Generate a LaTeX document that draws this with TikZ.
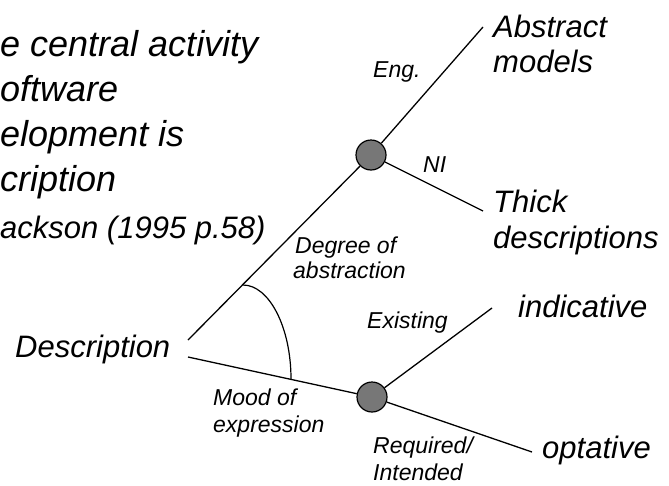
\documentclass[tikz,border=0pt]{standalone}
\usepackage{fontspec}
\setmainfont{Liberation Sans}
\definecolor{dotgray}{HTML}{777777}
\begin{document}
\begin{tikzpicture}[x=1pt,y=-1pt,
  lbl/.style={anchor=base west,inner sep=0pt,font=\itshape\fontsize{31}{35}\selectfont},
  big/.style={anchor=base west,inner sep=0pt,font=\itshape\fontsize{36}{42}\selectfont},
  small/.style={anchor=base west,inner sep=0pt,font=\itshape\fontsize{23}{26}\selectfont},
  dot/.style={circle,draw=black,line width=1.2pt,fill=dotgray,minimum size=30pt,inner sep=0pt},
  branch/.style={line width=1.3pt}]
\useasboundingbox (0,0) rectangle (669,485);
% quote
\node[big] (q1) at (0,56) {e central activity};
\node[big] (q2) at (0,101) {oftware};
\node[big] (q3) at (0,146) {elopment is};
\node[big] (q4) at (0,191) {cription};
\node[lbl] (q5) at (0,238) {ackson (1995 p.58)};
% main labels
\node[lbl] (desc) at (15,357) {Description};
\node[lbl] (abs1) at (493,37) {Abstract};
\node[lbl] (abs2) at (493,72) {models};
\node[lbl] (thk1) at (493,212) {Thick};
\node[lbl] (thk2) at (493,248) {descriptions};
\node[lbl] (ind) at (518,317) {indicative};
\node[lbl] (opt) at (542,458) {optative};
% small labels
\node[small] (eng) at (373,77) {Eng.};
\node[small] (ni) at (423,172) {NI};
\node[small] (deg1) at (295,253) {Degree of};
\node[small] (deg2) at (293,278) {abstraction};
\node[small] (ex) at (367,328) {Existing};
\node[small] (mood1) at (213,405) {Mood of};
\node[small] (mood2) at (213,432) {expression};
\node[small] (req1) at (373,453) {Required/};
\node[small] (req2) at (373,480) {Intended};
% geometry
\coordinate (d1) at (188,340);
\coordinate (d2) at (188,357);
\coordinate (e1) at (483,27);
\coordinate (e2) at (483,211);
\coordinate (e3) at (492,308);
\coordinate (e4) at (532,452);
\node[dot] (n1) at (371,155) {};
\node[dot] (n2) at (372,397) {};
\draw[branch] (d1) -- (n1);
\draw[branch] (n1) -- (e1);
\draw[branch] (n1) -- (e2);
\draw[branch] (d2) -- (n2);
\draw[branch] (n2) -- (e3);
\draw[branch] (n2) -- (e4);
% angle arc
\draw[line width=1.2pt] (243,285) .. controls (269,285) and (291,327) .. (291,379);
\end{tikzpicture}
\end{document}
